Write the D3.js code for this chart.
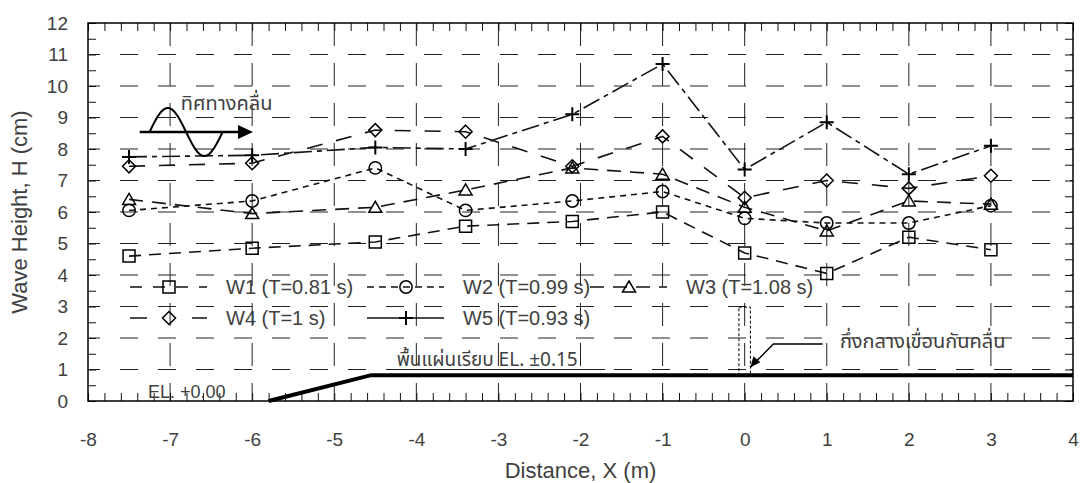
<!DOCTYPE html>
<html>
<head>
<meta charset="utf-8">
<title>Wave Height</title>
<script src="https://cdn.jsdelivr.net/npm/d3@7"></script>
<style>
    body { margin: 0; background: #fff; }
    text { font-family: "Liberation Sans", Arial, sans-serif; fill: #404040; }
    .thai { font-family: "Noto Sans Thai", "Noto Sans", "DejaVu Sans", sans-serif; }
</style>
</head>
<body>
<script>
// distances (m) of the gauges
var xs = [-7.5, -6, -4.5, -3.4, -2.1, -1, 0, 1, 2, 3];
// wave heights (cm)
var w1 = [4.6, 4.85, 5.05, 5.55, 5.7, 6.0, 4.7, 4.05, 5.2, 4.8];
var w2 = [6.05, 6.35, 7.4, 6.05, 6.35, 6.65, 5.8, 5.65, 5.65, 6.2];
var w3 = [6.4, 5.95, 6.15, 6.7, 7.4, 7.2, 6.15, 5.4, 6.35, 6.25];
var w4 = [7.45, 7.55, 8.6, 8.55, 7.45, 8.4, 6.45, 7.0, 6.75, 7.15];
var w5 = [7.75, 7.8, 8.05, 8.0, 9.1, 10.7, 7.35, 8.85, 7.2, 8.1];
var names = ["W1 (T=0.81 s)", "W2 (T=0.99 s)", "W3 (T=1.08 s)", "W4 (T=1 s)", "W5 (T=0.93 s)"];
var xTicks = [-8, -7, -6, -5, -4, -3, -2, -1, 0, 1, 2, 3, 4];
var yTicks = [0, 1, 2, 3, 4, 5, 6, 7, 8, 9, 10, 11, 12];
// bed profile (x m, H cm)
var bedX = [-5.8, -4.55, 4];
var bedY = [0, 0.82, 0.82];

var width = 1080, height = 483;
var margin = {top: 23, right: 7, bottom: 82, left: 88};
var iw = width - margin.left - margin.right,
    ih = height - margin.top - margin.bottom;

var svg = d3.select("body").append("svg")
    .attr("width", width)
    .attr("height", height);
var g = svg.append("g")
    .attr("transform", "translate(" + margin.left + "," + margin.top + ")");

var x = d3.scaleLinear().domain([-8, 4]).range([0, iw]);
var y = d3.scaleLinear().domain([0, 12]).range([ih, 0]);

// grille en tirets
g.append("g").selectAll("line").data(yTicks.slice(1, -1)).join("line")
    .attr("x1", 0).attr("x2", iw)
    .attr("y1", d => y(d)).attr("y2", d => y(d))
    .attr("stroke", "#222").attr("stroke-width", 1)
    .attr("stroke-dasharray", "18,20").attr("stroke-dashoffset", 6);
g.append("g").selectAll("line").data(xTicks.slice(1, -1)).join("line")
    .attr("x1", d => x(d)).attr("x2", d => x(d))
    .attr("y1", 0).attr("y2", ih)
    .attr("stroke", "#222").attr("stroke-width", 1)
    .attr("stroke-dasharray", "23,17");

// petites graduations
var xMinor = d3.range(-8, 4.001, 0.2), yMinor = d3.range(0, 12.001, 0.5);
function minor(axis) {
    return function(sel) {
        sel.call(axis);
        sel.select(".domain").remove();
        sel.selectAll("line").attr("stroke", "#111");
    };
}
g.append("g").attr("transform", "translate(0," + ih + ")")
    .call(minor(d3.axisBottom(x).tickValues(xMinor).tickSize(-8).tickFormat("")));
g.append("g")
    .call(minor(d3.axisTop(x).tickValues(xMinor).tickSize(-8).tickFormat("")));
g.append("g")
    .call(minor(d3.axisLeft(y).tickValues(yMinor).tickSize(-8).tickFormat("")));
g.append("g").attr("transform", "translate(" + iw + ",0)")
    .call(minor(d3.axisRight(y).tickValues(yMinor).tickSize(-8).tickFormat("")));

// étiquettes
var xa = g.append("g").attr("transform", "translate(0," + ih + ")")
    .call(d3.axisBottom(x).tickValues(xTicks).tickSize(0).tickPadding(32).tickFormat(d => String(d)));
xa.select(".domain").remove();
xa.selectAll("text").attr("font-size", 19).attr("fill", "#404040").attr("font-family", "Liberation Sans, Arial, sans-serif");
var ya = g.append("g")
    .call(d3.axisLeft(y).tickValues(yTicks).tickSize(0).tickPadding(20));
ya.select(".domain").remove();
ya.selectAll("text").attr("font-size", 19).attr("fill", "#404040").attr("font-family", "Liberation Sans, Arial, sans-serif");

svg.append("text")
    .attr("x", margin.left + x(-2)).attr("y", 478)
    .attr("text-anchor", "middle").attr("font-size", 22)
    .text("Distance, X (m)");
svg.append("text")
    .attr("transform", "translate(27," + (margin.top + y(6)) + ") rotate(-90)")
    .attr("text-anchor", "middle").attr("font-size", 22)
    .text("Wave Height, H (cm)");

// fond / pente
var bed = d3.range(bedX.length).map(i => [bedX[i], bedY[i]]);
g.append("path")
    .attr("d", d3.line().x(d => x(d[0])).y(d => y(d[1]))(bed))
    .attr("fill", "none").attr("stroke", "#000").attr("stroke-width", 4);

// brise-lames (pointillés)
g.append("rect")
    .attr("x", x(-0.07)).attr("y", y(2.98))
    .attr("width", x(0.07) - x(-0.07)).attr("height", y(0.82) - y(2.98))
    .attr("fill", "none").attr("stroke", "#000").attr("stroke-width", 1)
    .attr("stroke-dasharray", "3,2");

// séries
var series = [
    {v: w1, dash: "12,8", sym: "square", legDash: "12,11"},
    {v: w2, dash: "6,5", sym: "circle", legDash: "7,5"},
    {v: w3, dash: "14,9", sym: "triangle", legDash: "14,9"},
    {v: w4, dash: "16,14", sym: "diamond", legDash: "17,45,17"},
    {v: w5, dash: "18,5,5,5", sym: "plus", legDash: null}
];

function marker(sel, sym) {
    sel.attr("fill", "none").attr("stroke", "#000").attr("stroke-width", 1.5);
    if (sym === "square") sel.attr("d", "M-6,-6h12v12h-12z");
    if (sym === "circle") sel.attr("d", d3.symbol(d3.symbolCircle, 120)());
    if (sym === "triangle") sel.attr("d", "M0,-6L6.5,5H-6.5Z");
    if (sym === "diamond") sel.attr("d", "M0,-6.5L6.5,0L0,6.5L-6.5,0Z");
    if (sym === "plus") sel.attr("d", "M-7,0H7M0,-7V7").attr("stroke-width", 2);
}

var line = d3.line().x(d => x(d[0])).y(d => y(d[1]));
series.forEach(function(s) {
    var pts = xs.map((d, i) => [d, s.v[i]]);
    g.append("path").attr("d", line(pts))
        .attr("fill", "none").attr("stroke", "#111").attr("stroke-width", 1.6)
        .attr("stroke-dasharray", s.dash);
    g.append("g").selectAll("path").data(pts).join("path")
        .attr("transform", d => "translate(" + x(d[0]) + "," + y(d[1]) + ")")
        .call(marker, s.sym);
});

// légende
var legPos = [[130, 287], [367, 287], [590, 287], [130, 318], [367, 318]];
series.forEach(function(s, i) {
    var lg = svg.append("g").attr("transform", "translate(" + legPos[i][0] + "," + legPos[i][1] + ")");
    lg.append("line").attr("x1", 0).attr("x2", 77).attr("y1", 0).attr("y2", 0)
        .attr("stroke", "#111").attr("stroke-width", 1.6)
        .attr("stroke-dasharray", s.legDash);
    lg.append("path").attr("transform", "translate(39,0)").call(marker, s.sym);
    lg.append("text").attr("x", 96).attr("y", 7).attr("font-size", 20).text(names[i]);
});

// annotations
var wave = d3.range(0, 1.0001, 0.02).map(t => [x(-7.25) + t * (x(-6.36) - x(-7.25)), y(8.54) - Math.sin(t * 2 * Math.PI) * 24]);
g.append("path").attr("d", d3.line()(wave))
    .attr("fill", "none").attr("stroke", "#000").attr("stroke-width", 2);
g.append("line").attr("x1", x(-7.37)).attr("x2", x(-6.15))
    .attr("y1", y(8.54)).attr("y2", y(8.54))
    .attr("stroke", "#000").attr("stroke-width", 2.5);
g.append("path")
    .attr("d", "M" + x(-5.99) + "," + y(8.54) + "l-15,-7v14z").attr("fill", "#000");
g.append("text").attr("class", "thai")
    .attr("x", x(-6.87)).attr("y", y(9.24)).attr("font-size", 20)
    .text("ทิศทางคลื่น");

g.append("text").attr("x", x(-7.27)).attr("y", y(0.08)).attr("font-size", 18)
    .text("EL. +0.00");

g.append("text").attr("class", "thai")
    .attr("x", x(-4.24)).attr("y", y(1.1)).attr("font-size", 19)
    .text("พื้นแผ่นเรียบ EL. ±0.15");
g.append("line").attr("x1", x(-4.24)).attr("x2", x(-1.7))
    .attr("y1", y(1)).attr("y2", y(1)).attr("stroke", "#222").attr("stroke-width", 1);

g.append("path")
    .attr("d", "M" + x(0.95) + "," + y(1.81) + "H" + x(0.35) + "L" + x(0.07) + "," + y(1.07))
    .attr("fill", "none").attr("stroke", "#000").attr("stroke-width", 1.5);
g.append("path")
    .attr("d", "M" + x(0.07) + "," + y(1.07) + "l3,-11l7,6z").attr("fill", "#000");
g.append("text").attr("class", "thai")
    .attr("x", x(1.16)).attr("y", y(1.68)).attr("font-size", 20)
    .text("กึ่งกลางเขื่อนกันคลื่น");

// cadre
g.append("rect").attr("width", iw).attr("height", ih)
    .attr("fill", "none").attr("stroke", "#000").attr("stroke-width", 1.5);
</script>
</body>
</html>
